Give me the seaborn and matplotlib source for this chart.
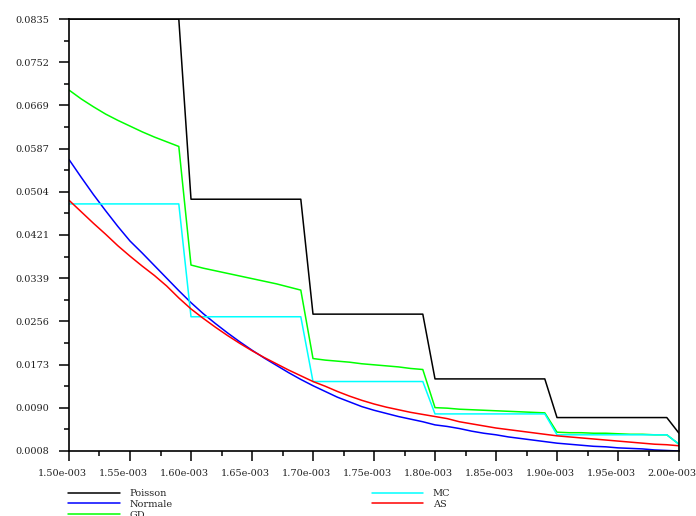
import numpy as np
import pandas as pd
import matplotlib.pyplot as plt
import matplotlib.transforms as mtransforms
import seaborn as sns

# x grid: 1.50e-003 .. 2.00e-003, step 0.01e-003
x_vals = [1.50e-3, 1.51e-3, 1.52e-3, 1.53e-3, 1.54e-3, 1.55e-3, 1.56e-3, 1.57e-3, 1.58e-3, 1.59e-3,
          1.60e-3, 1.61e-3, 1.62e-3, 1.63e-3, 1.64e-3, 1.65e-3, 1.66e-3, 1.67e-3, 1.68e-3, 1.69e-3,
          1.70e-3, 1.71e-3, 1.72e-3, 1.73e-3, 1.74e-3, 1.75e-3, 1.76e-3, 1.77e-3, 1.78e-3, 1.79e-3,
          1.80e-3, 1.81e-3, 1.82e-3, 1.83e-3, 1.84e-3, 1.85e-3, 1.86e-3, 1.87e-3, 1.88e-3, 1.89e-3,
          1.90e-3, 1.91e-3, 1.92e-3, 1.93e-3, 1.94e-3, 1.95e-3, 1.96e-3, 1.97e-3, 1.98e-3, 1.99e-3,
          2.00e-3]

poisson = [0.0835] * 10 + [0.0490] * 10 + [0.0270] * 10 + [0.0146] * 10 + [0.0072] * 10 + [0.0042]

normale = [0.0566, 0.0532, 0.0499, 0.0468, 0.0438, 0.0410, 0.0387, 0.0363, 0.0339, 0.0315,
           0.0292, 0.0271, 0.0252, 0.0234, 0.0217, 0.0201, 0.0186, 0.0172, 0.0158, 0.0145,
           0.0133, 0.0122, 0.0111, 0.0102, 0.0093, 0.0086, 0.0080, 0.0074, 0.0069, 0.0064,
           0.0058, 0.0055, 0.0051, 0.0046, 0.0042, 0.0039, 0.0035, 0.0032, 0.0029, 0.0026,
           0.0023, 0.0021, 0.0019, 0.0017, 0.0016, 0.0014, 0.0013, 0.0012, 0.0010, 0.0009,
           0.0008]

gd = [0.0699, 0.0682, 0.0667, 0.0653, 0.0641, 0.0630, 0.0619, 0.0609, 0.0600, 0.0591,
      0.0364, 0.0358, 0.0353, 0.0348, 0.0343, 0.0338, 0.0333, 0.0328, 0.0322, 0.0316,
      0.0185, 0.0182, 0.0180, 0.0178, 0.0175, 0.0173, 0.0171, 0.0169, 0.0166, 0.0164,
      0.0091, 0.0090, 0.0088, 0.0087, 0.0086, 0.0085, 0.0084, 0.0083, 0.0082, 0.0081,
      0.0044, 0.0043, 0.0043, 0.0042, 0.0042, 0.0041, 0.0040, 0.0040, 0.0039, 0.0039,
      0.0021]

mc = [0.0481] * 10 + [0.0265] * 10 + [0.0141] * 10 + [0.0079] * 10 + [0.0039] * 10 + [0.0021]

as_vals = [0.0488, 0.0466, 0.0444, 0.0423, 0.0401, 0.0381, 0.0362, 0.0344, 0.0324, 0.0301,
           0.0280, 0.0262, 0.0245, 0.0229, 0.0214, 0.0200, 0.0187, 0.0175, 0.0163, 0.0152,
           0.0141, 0.0132, 0.0122, 0.0113, 0.0105, 0.0098, 0.0092, 0.0087, 0.0082, 0.0078,
           0.0074, 0.0070, 0.0064, 0.0060, 0.0056, 0.0052, 0.0049, 0.0046, 0.0043, 0.0040,
           0.0037, 0.0035, 0.0033, 0.0031, 0.0029, 0.0027, 0.0025, 0.0023, 0.0021, 0.0020,
           0.0018]

series_names = ["Poisson", "Normale", "GD", "MC", "AS"]
series_colors = ["#000000", "#0000ff", "#00ff00", "#00ffff", "#ff0000"]

y_tick_labels = ["0.0008", "0.0090", "0.0173", "0.0256", "0.0339", "0.0421",
                 "0.0504", "0.0587", "0.0669", "0.0752", "0.0835"]
x_tick_labels = ["1.50e-003", "1.55e-003", "1.60e-003", "1.65e-003", "1.70e-003", "1.75e-003",
                 "1.80e-003", "1.85e-003", "1.90e-003", "1.95e-003", "2.00e-003"]

df = pd.DataFrame({
    "x": x_vals * 5,
    "y": poisson + normale + gd + mc + as_vals,
    "serie": sum([[n] * len(x_vals) for n in series_names], []),
})

sns.set_theme(style="white")
plt.rcParams["font.family"] = "DejaVu Serif"

fig = plt.figure(figsize=(6.96, 5.16), dpi=100)
ax = fig.add_axes([69 / 696, 1 - 451 / 516, 610 / 696, 432 / 516])

sns.lineplot(data=df, x="x", y="y", hue="serie", hue_order=series_names,
             palette=dict(zip(series_names, series_colors)), estimator=None,
             errorbar=None, legend=False, linewidth=1.1, ax=ax)

ymin, ymax = 0.0008, 0.0835
ax.set_xlim(x_vals[0], x_vals[-1])
ax.set_ylim(ymin, ymax)

yt = np.linspace(ymin, ymax, len(y_tick_labels))
ax.set_yticks(yt)
ax.set_yticklabels(y_tick_labels)
ax.set_yticks((yt[:-1] + yt[1:]) / 2, minor=True)

xt = np.linspace(x_vals[0], x_vals[-1], len(x_tick_labels))
ax.set_xticks(xt)
ax.set_xticklabels(x_tick_labels)
ax.set_xticks((xt[:-1] + xt[1:]) / 2, minor=True)

ax.set_xlabel("")
ax.set_ylabel("")

for s in ax.spines.values():
    s.set_color("black")
    s.set_linewidth(1.2)

ax.tick_params(which="both", direction="out", color="black", width=1.1,
               left=True, bottom=True, top=False, right=False, labelsize=7,
               labelcolor="#222222")
ax.tick_params(which="major", length=7)
ax.tick_params(which="minor", length=3.6)
ax.tick_params(axis="y", which="major", pad=7)
ax.tick_params(axis="x", which="major", pad=6)

# scilab puts the x labels a little to the left of their ticks
shift = mtransforms.ScaledTranslation(-7 / 100, 0, fig.dpi_scale_trans)
for lab in ax.get_xticklabels():
    lab.set_transform(lab.get_transform() + shift)

fig.legend(ax.lines[:5], series_names, ncol=2, loc="upper left",
           bbox_to_anchor=(68 / 696, 1 - 489 / 516), frameon=False,
           fontsize=7, handlelength=5.3, handletextpad=1.0,
           columnspacing=20.5, labelspacing=0.18, borderpad=0, borderaxespad=0)

fig.savefig("out.png", dpi=100)
